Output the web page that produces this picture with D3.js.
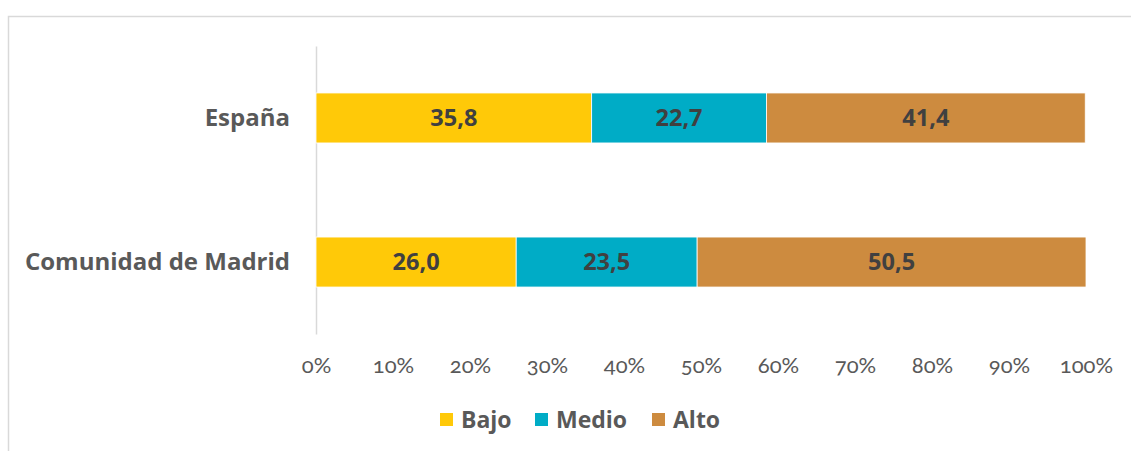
<!DOCTYPE html>
<html>
<head>
<meta charset="utf-8">
<script src="https://cdn.jsdelivr.net/npm/d3@7"></script>
<style>
  body { margin: 0; background: #fff; }
  text { font-family: "Open Sans", sans-serif; }
  .tick text { font-family: Lato, "Open Sans", sans-serif; font-feature-settings: "onum"; }
</style>
</head>
<body>
<div id="chart"></div>
<script>
// data
var regions = ["España", "Comunidad de Madrid"];
var series = ["Bajo", "Medio", "Alto"];
var bajo = [35.8, 26.0];
var medio = [22.7, 23.5];
var alto = [41.4, 50.5];
var ticks = [0, 10, 20, 30, 40, 50, 60, 70, 80, 90, 100];
var colors = ["#FFC908", "#00ACC6", "#CD8B3F"];

var svgWidth = 1131, svgHeight = 451;
var margin = { top: 46, left: 316, right: 45, bottom: 117 };
var width = 1086 - margin.left;
var height = 334 - margin.top;

var svg = d3.select("#chart").append("svg")
    .attr("width", svgWidth)
    .attr("height", svgHeight);

// chart frame (only top and left visible in reference)
svg.append("path")
    .attr("d", "M8.5,460 V16.5 H1140")
    .attr("fill", "none")
    .attr("stroke", "#d9d9d9")
    .attr("stroke-width", 1.5);

var chart = svg.append("g")
    .attr("transform", `translate(${margin.left},${margin.top})`);

var rows = regions.map((r, i) => ({ region: r, Bajo: bajo[i], Medio: medio[i], Alto: alto[i] }));
var stack = d3.stack().keys(series)(rows);

var x = d3.scaleLinear().domain([0, 100]).range([0, width]);
var y = d3.scaleBand().domain(regions).range([0, height]).paddingInner(0.653).paddingOuter(0.326);

// x axis labels
var xAxis = d3.axisBottom(x).tickValues(ticks).tickSize(0).tickPadding(23).tickFormat(d => d + "%");
var gx = chart.append("g")
    .attr("transform", `translate(0,${height})`)
    .call(xAxis);
gx.select(".domain").remove();
gx.selectAll("text").attr("fill", "#595959").style("font-size", "22px");

// y axis
var yAxis = d3.axisLeft(y).tickSize(0).tickPadding(26);
var gy = chart.append("g").call(yAxis);
gy.select(".domain").attr("stroke", "#d9d9d9").attr("stroke-width", 1.5);
gy.selectAll("text")
    .attr("fill", "#595959")
    .style("font-size", "24px")
    .style("font-weight", "bold")
    .style("font-family", "'Open Sans', sans-serif")
    .style("font-feature-settings", "normal");

// bars
var layers = chart.selectAll(".layer")
    .data(stack)
    .enter().append("g")
    .attr("class", "layer")
    .attr("fill", (d, i) => colors[i]);

layers.selectAll("rect")
    .data(d => d)
    .enter().append("rect")
    .attr("x", d => x(d[0]))
    .attr("y", d => y(d.data.region))
    .attr("width", d => x(d[1]) - x(d[0]))
    .attr("height", y.bandwidth())
    .attr("stroke", "#fff")
    .attr("stroke-width", 0.8);

layers.selectAll("text")
    .data(d => d)
    .enter().append("text")
    .attr("x", d => (x(d[0]) + x(d[1])) / 2)
    .attr("y", d => y(d.data.region) + y.bandwidth() / 2)
    .attr("dy", "0.36em")
    .attr("text-anchor", "middle")
    .attr("fill", "#404040")
    .style("font-size", "23.5px")
    .style("font-weight", "bold")
    .text(d => d3.format(".1f")(d[1] - d[0]).replace(".", ","));

// legend
var legendX = [440, 535, 652];
var legend = svg.selectAll(".legend")
    .data(series)
    .enter().append("g")
    .attr("class", "legend")
    .attr("transform", (d, i) => `translate(${legendX[i]},413)`);
legend.append("rect")
    .attr("width", 13).attr("height", 13)
    .attr("fill", (d, i) => colors[i]);
legend.append("text")
    .attr("x", 21).attr("y", 6.5).attr("dy", "0.36em")
    .attr("fill", "#595959")
    .style("font-size", "23px")
    .style("font-weight", "bold")
    .text(d => d);
</script>
</body>
</html>
